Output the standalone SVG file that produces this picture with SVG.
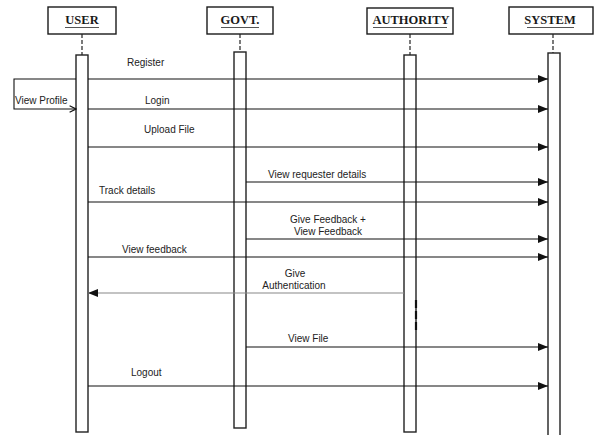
<svg xmlns="http://www.w3.org/2000/svg" width="594" height="435" viewBox="0 0 594 435">
  <style>
    .head { fill: #fff; stroke: #1a1a1a; stroke-width: 1.4; }
    .head-text { font-family: "Liberation Serif", "Times New Roman", serif; font-weight: bold; font-size: 12.5px; fill: #1a1a1a; text-anchor: middle; }
    .uline { stroke: #555; stroke-width: 1.2; }
    .life { stroke: #222; stroke-width: 1.2; stroke-dasharray: 4 2; }
    .act { fill: #fff; stroke: #222; stroke-width: 1.4; }
    .msg { stroke: #111; stroke-width: 1.1; fill: none; marker-end: url(#arrow); }
    .reply { stroke: #888; stroke-width: 1.1; fill: none; marker-end: url(#arrow); }
    .lbl { font-family: "Liberation Sans", Arial, sans-serif; font-size: 10px; fill: #222; }
  </style>
  <defs>
    <marker id="arrow" viewBox="0 0 10 8" refX="10" refY="4" markerWidth="10" markerHeight="8" markerUnits="userSpaceOnUse" orient="auto">
      <path d="M0,0 L10,4 L0,8 z" fill="#111"/>
    </marker>
    <marker id="open" viewBox="0 0 10 10" refX="9" refY="5" markerWidth="8" markerHeight="8" markerUnits="userSpaceOnUse" orient="auto">
      <path d="M1,1 L9,5 L1,9" fill="none" stroke="#111" stroke-width="1.6"/>
    </marker>
  </defs>

  <rect width="594" height="435" fill="#fff"/>

  <!-- lifelines -->
  <g id="user">
    <rect class="head" x="48" y="7" width="68" height="27"/>
    <text class="head-text" x="82" y="24">USER</text>
    <line class="uline" x1="65" y1="27.5" x2="99" y2="27.5"/>
    <line class="life" x1="82" y1="34" x2="82" y2="55"/>
    <rect class="act" x="76" y="55" width="12" height="377"/>
  </g>
  <g id="govt">
    <rect class="head" x="207" y="7" width="66" height="27"/>
    <text class="head-text" x="240" y="24">GOVT.</text>
    <line class="uline" x1="221" y1="27.5" x2="259" y2="27.5"/>
    <line class="life" x1="240" y1="34" x2="240" y2="52"/>
    <rect class="act" x="234" y="52" width="12" height="376"/>
  </g>
  <g id="authority">
    <rect class="head" x="367" y="8" width="86" height="26"/>
    <text class="head-text" x="411" y="24">AUTHORITY</text>
    <line class="uline" x1="373" y1="27.5" x2="447" y2="27.5"/>
    <line class="life" x1="410" y1="34" x2="410" y2="55"/>
    <rect class="act" x="404" y="55" width="12" height="377"/>
    <line x1="416" y1="300" x2="416" y2="332" stroke="#111" stroke-width="2.2" stroke-dasharray="8 3"/>
  </g>
  <g id="system">
    <rect class="head" x="509" y="7" width="84" height="27"/>
    <text class="head-text" x="550" y="24">SYSTEM</text>
    <line class="uline" x1="527" y1="27.5" x2="574" y2="27.5"/>
    <line class="life" x1="553" y1="34" x2="553" y2="53"/>
    <rect class="act" x="548" y="53" width="12" height="390"/>
  </g>

  <!-- messages -->
  <g id="connectors">
    <line class="msg" x1="88" y1="79" x2="548" y2="79"/>
    <polyline points="76,79 14,79 14,109 76,109" fill="none" stroke="#111" stroke-width="1.1" marker-end="url(#open)"/>
    <line class="msg" x1="88" y1="109" x2="548" y2="109"/>
    <line class="msg" x1="88" y1="147" x2="548" y2="147"/>
    <line class="msg" x1="246" y1="182" x2="548" y2="182"/>
    <line class="msg" x1="88" y1="202" x2="548" y2="202"/>
    <line class="msg" x1="246" y1="239" x2="548" y2="239"/>
    <line class="msg" x1="88" y1="257" x2="548" y2="257"/>
    <line class="reply" x1="404" y1="293" x2="88" y2="293"/>
    <line class="msg" x1="246" y1="347" x2="548" y2="347"/>
    <line class="msg" x1="88" y1="386" x2="548" y2="386"/>
  </g>

  <!-- message labels -->
  <g id="labels">
    <text class="lbl" x="127" y="65.5">Register</text>
    <text class="lbl" x="15" y="104">View Profile</text>
    <text class="lbl" x="145" y="103.5">Login</text>
    <text class="lbl" x="144" y="133">Upload File</text>
    <text class="lbl" x="268" y="178">View requester details</text>
    <text class="lbl" x="99" y="194">Track details</text>
    <text class="lbl" x="328" y="223" text-anchor="middle">Give Feedback +</text>
    <text class="lbl" x="328" y="235" text-anchor="middle">View Feedback</text>
    <text class="lbl" x="122" y="253">View feedback</text>
    <text class="lbl" x="295" y="277" text-anchor="middle">Give</text>
    <text class="lbl" x="294" y="289" text-anchor="middle">Authentication</text>
    <text class="lbl" x="288" y="342">View File</text>
    <text class="lbl" x="131" y="376">Logout</text>
  </g>
</svg>
